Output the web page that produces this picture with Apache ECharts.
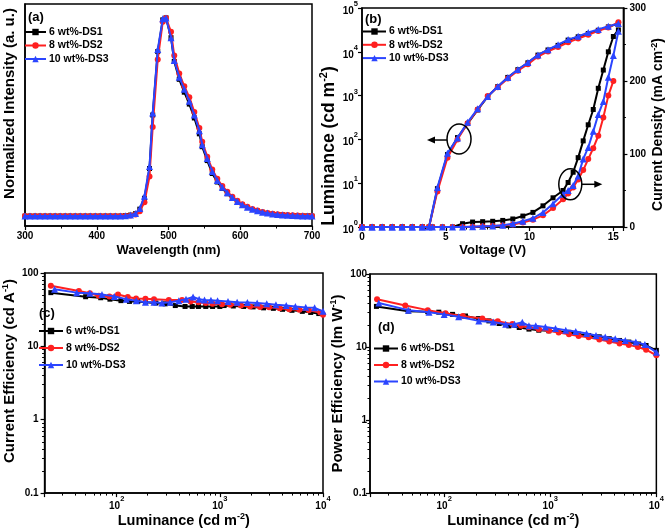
<!DOCTYPE html>
<html><head><meta charset="utf-8">
<script src="https://cdn.jsdelivr.net/npm/echarts@6/dist/echarts.min.js"></script>
<style>html,body{margin:0;padding:0;background:#fff}#c{width:667px;height:530px}</style>
</head><body><div id="c"></div>
<script>
// ---------- DATA ----------
const seriesNames = ['6 wt%-DS1', '8 wt%-DS2', '10 wt%-DS3'];

// (a) EL spectra
const wavelength = [300,307,314,321,328,335,342,349,356,363,370,377,384,391,398,405,412,419,426,433,440,447,454,
  460,466.5,473.5,478,485,492,496.5,503.5,508,515,
  522,529,536,543,547,554,561,568,
  575,582,589,596,603,610,617,624,631,638,645,652,659,666,673,680,687,694,
  700];
const elDS1 = [0,0,0,0,0,0,0,0,0,0,0,0,0,0,0,0,0,0,0,0,0.002,0.005,0.012,
  0.035,0.09,0.24,0.51,0.83,0.99,1.0,0.9,0.78,0.69,
  0.625,0.565,0.495,0.415,0.35,0.28,0.215,0.172,
  0.14,0.113,0.09,0.07,0.055,0.043,0.033,0.025,0.019,0.014,0.01,0.008,0.006,0.004,0.003,0.002,0.001,0.001,
  0];
const elDS2 = [0,0,0,0,0,0,0,0,0,0,0,0,0,0,0,0,0,0,0,0,0.001,0.003,0.008,
  0.025,0.07,0.2,0.45,0.79,0.98,1.0,0.93,0.81,0.72,
  0.655,0.6,0.525,0.445,0.375,0.3,0.235,0.188,
  0.152,0.123,0.098,0.077,0.06,0.047,0.036,0.028,0.021,0.016,0.012,0.009,0.007,0.005,0.004,0.003,0.002,0.001,
  0.001];
const elDS3 = [0,0,0,0,0,0,0,0,0,0,0,0,0,0,0,0,0,0,0,0,0.002,0.005,0.013,
  0.038,0.1,0.25,0.52,0.84,0.995,1.0,0.9,0.785,0.7,
  0.64,0.58,0.51,0.43,0.36,0.29,0.225,0.18,
  0.145,0.118,0.094,0.073,0.057,0.045,0.035,0.027,0.02,0.015,0.011,0.008,0.006,0.004,0.003,0.002,0.001,0.001,
  0];

// (b) luminance vs voltage (left axis)
const lumV = [0,0.6,1.2,1.8,2.4,3.0,3.6,4.0,4.5,5.1,5.7,6.3,6.9,7.5,8.1,8.7,9.3,9.9,10.5,11.1,11.7,12.3,12.9,13.5,14.1,14.7,15.3];
const lumDS1 = [1,1,1,1,1,1,1,1,7.5,45,110,230,470,950,1600,2600,3900,5600,8400,11000,14000,18500,22000,26000,31000,37000,44000];
const lumDS2 = [1,1,1,1,1,1,1,1,6.5,38,100,235,480,980,1550,2450,3700,5200,7800,10200,12800,16500,20000,24500,30000,36000,47000];
const lumDS3 = [1,1,1,1,1,1,1,1,8,48,108,245,500,950,1620,2600,3950,5700,8500,11200,14500,19000,22500,27500,32500,38500,44000];
// (b) current density vs voltage (right axis)
const jV = [0,0.6,1.2,1.8,2.4,3.0,3.6,4.2,4.8,5.4,6.0,6.6,7.2,7.8,8.4,9.0,9.6,10.2,10.8,11.4,12.0,12.3,12.6,12.9,13.2,13.5,13.8,14.1,14.4,14.7,15.0,15.3];
const jDS1 = [0,0,0,0,0,0,0,0,0,0,4.5,6.8,7.3,7.8,9,11,15,20,29,40,50,61,75,95,118,140,161,190,215,240,261,270];
const jDS2 = [0,0,0,0,0,0,0,0,0,0,0,0.5,1,1.5,2,3.5,6,10,16,26,38,46,54,65,78,93,108,125,150,180,200,null];
const jDS3 = [0,0,0,0,0,0,0,0,0,0,0,0.5,1,1.5,2.3,4.5,8,12,20,32,45,50,57,70,93,109,131,154,172,205,235,268];

// (c) current efficiency vs luminance
const ceL1 = [23,50,70,86,110,133,160,190,240,295,370,460,540,620,730,850,1000,1100,1350,1700,2100,2650,3300,4050,5000,6300,7600,9100];
const ceDS1 = [54,47.5,46,44,42,41,41,40,39,38,36,35,35,35,35,35,35,36,35.5,35,34.5,33.5,33,32,31,30,29,28];
const ceL2 = [23,43,55,67,85,103,128,154,190,230,320,430,520,620,730,850,1050,1260,1600,1960,2450,3000,3800,4700,5900,7300,9400,10000];
const ceDS2 = [67,57,53,49,48,51,47,45,44.5,44,43,43,41,40,39,38,37.5,37,36,35,34.5,34,33,32,31.5,31,29,27];
const ceL3 = [25,41,55,72,95,124,155,190,230,275,330,400,470,550,630,710,820,950,1200,1470,1850,2300,2850,3500,4400,5400,6800,8300,10000];
const ceDS3 = [60,54,53,51,48,44,42,40,40,39,40,42,44,47,44,43,42.5,42,41,40,39.5,39,38,37,36,35,34,33.5,30];

// (d) power efficiency vs luminance
const peL1 = [23,46,70,89,120,159,210,264,330,407,510,630,780,970,1200,1500,1850,2300,2900,3600,4500,5500,6800,8000,10000];
const peDS1 = [36,31,30.5,30,28,26.6,24.5,22.8,21,19.5,18.5,17.6,17,16.7,16.3,15.9,15,14.4,13.8,13,12.3,11.7,11,10.5,9];
const peL2 = [23.3,43,70,103,150,229,320,440,530,630,780,970,1200,1500,1850,2300,2900,3600,4500,5500,6700,8000,10000];
const peDS2 = [45,37,32,29,26.5,24.6,22.5,20.6,19.5,18.6,17.5,16.7,15.8,15,14.2,13.6,12.7,11.9,11.2,10.7,10,9.2,7.7];
const peL3 = [24.2,46,72,100,137,212,290,380,460,545,630,730,900,1120,1400,1740,2200,2700,3300,4100,5100,6400,7800,10000];
const peDS3 = [40,32,30,28,26,22.8,22,20.5,20.5,21.8,19.5,19.6,18.8,18,17,16.3,15.3,14.4,13.7,13,12.3,11.7,10.8,8.5];

// ---------- STYLE ----------
const FF = "'Liberation Sans', Arial, Helvetica, sans-serif";
const colors = ['#000000', '#ff2020', '#2b45ff'];
const symbols = ['rect', 'circle', 'triangle'];
const symSizes = [5, 6, 7];
const txt = (s) => ({fontFamily: FF, fontWeight: 'bold', fontSize: s, color: '#000'});
const supRich = {b: Object.assign(txt(10), {lineHeight: 16, verticalAlign: 'bottom'}), s: Object.assign(txt(7.5), {verticalAlign: 'top'})};
const nameRich = (s) => ({s: Object.assign(txt(s), {verticalAlign: 'top'})});
function logLabel(v) { const l = Math.log10(v), r = Math.round(l); if (Math.abs(l - r) > 0.01) return ''; return '{b|10}{s|' + r + '}'; }
function decLabel(v) { const l = Math.log10(v), r = Math.round(l); if (Math.abs(l - r) > 0.01) return ''; return r >= 0 ? String(Math.pow(10, r)) : Math.pow(10, r).toFixed(-r); }
const zip = (xs, ys) => xs.map((x, i) => [x, ys[i]]);
const axLine = {show: true, onZero: false, lineStyle: {color: '#000', width: 1.5}};
const axTick = {show: true, length: 4, lineStyle: {color: '#000', width: 1.2}};
const minor = (n) => ({show: true, splitNumber: n, length: 2.5, lineStyle: {color: '#000', width: 1}});
const noSplit = {show: false};

function line(i, data, xi, yi) {
  return {type: 'line', name: seriesNames[i], data: data, xAxisIndex: xi, yAxisIndex: yi,
    symbol: symbols[i], symbolSize: symSizes[i], showSymbol: true, showAllSymbol: true,
    lineStyle: {color: colors[i], width: 2}, itemStyle: {color: colors[i]},
    emphasis: {disabled: true}, animation: false, z: 2 + i};
}

const legendBase = (left, top, w, gap) => ({left: left, top: top, orient: 'vertical', padding: 0,
  itemWidth: w, itemHeight: 8, itemGap: gap, selectedMode: false, data: seriesNames,
  textStyle: Object.assign(txt(10.5), {padding: [0, 0, 0, -2]})});

const chart = echarts.init(document.getElementById('c'), null, {renderer: 'canvas'});
chart.setOption({
  backgroundColor: '#fff',
  animation: false,
  grid: [
    {left: 23, top: 4, width: 289, height: 222, show: true, borderColor: '#000', borderWidth: 1.5},
    {left: 362, top: 6, width: 264, height: 221, show: true, borderColor: '#000', borderWidth: 1.5},
    {left: 38, top: 273, width: 285, height: 225, show: true, borderColor: '#000', borderWidth: 1.5},
    {left: 370, top: 274, width: 288, height: 224, show: true, borderColor: '#000', borderWidth: 1.5}
  ],
  xAxis: [
    {gridIndex: 0, type: 'value', min: 300, max: 700, interval: 100, axisLine: axLine, axisTick: axTick, minorTick: minor(2), splitLine: noSplit,
      axisLabel: Object.assign(txt(10), {margin: 5}),
      name: 'Wavelength (nm)', nameLocation: 'middle', nameGap: 16.5, nameTextStyle: Object.assign(txt(13), {lineHeight: 15})},
    {gridIndex: 1, type: 'value', min: 0, max: 15.6, interval: 5, axisLine: axLine, axisTick: axTick, minorTick: minor(4), splitLine: noSplit,
      axisLabel: Object.assign(txt(10), {margin: 5, formatter: v => (Math.abs(v % 5) < 1e-6 ? String(v) : '')}),
      name: 'Voltage (V)', nameLocation: 'middle', nameGap: 15.5, nameTextStyle: Object.assign(txt(13), {lineHeight: 15})},
    {gridIndex: 2, type: 'log', logBase: 10, min: 20, max: 10000, splitNumber: 3, axisLine: axLine, axisTick: axTick, minorTick: minor(9), splitLine: noSplit,
      axisLabel: {formatter: logLabel, rich: supRich, margin: 2},
      name: 'Luminance (cd m{s|-2})', nameLocation: 'middle', nameGap: 7,
      nameTextStyle: Object.assign(txt(14.5), {lineHeight: 17, rich: nameRich(9)})},
    {gridIndex: 3, type: 'log', logBase: 10, min: 20, max: 10000, splitNumber: 3, axisLine: axLine, axisTick: axTick, minorTick: minor(9), splitLine: noSplit,
      axisLabel: {formatter: logLabel, rich: supRich, margin: 2},
      name: 'Luminance (cd m{s|-2})', nameLocation: 'middle', nameGap: 8.5,
      nameTextStyle: Object.assign(txt(14.5), {lineHeight: 17, rich: nameRich(9)})}
  ],
  yAxis: [
    {gridIndex: 0, type: 'value', min: -0.05, max: 1.07, axisLine: axLine, axisTick: {show: false}, axisLabel: {show: false}, splitLine: noSplit,
      name: 'Normalized Intensity (a. u.)', nameLocation: 'middle', nameRotate: 90, nameGap: 7,
      nameTextStyle: Object.assign(txt(15), {lineHeight: 17, padding: [0, 0, 0, 23]})},
    {gridIndex: 1, type: 'log', logBase: 10, min: 1, max: 100000, axisLine: axLine, axisTick: axTick, splitLine: noSplit,
      axisLabel: {formatter: logLabel, rich: supRich, margin: 4},
      name: 'Luminance (cd m{s|-2})', nameLocation: 'middle', nameRotate: 90, nameGap: 18,
      nameTextStyle: Object.assign(txt(17.5), {lineHeight: 20, padding: [0, 57, 0, 0], rich: nameRich(11)})},
    {gridIndex: 1, type: 'value', position: 'right', min: 0, max: 300, interval: 100, axisLine: axLine, axisTick: axTick, minorTick: minor(2), splitLine: noSplit,
      axisLabel: Object.assign(txt(10), {margin: 6}),
      name: 'Current Density (mA cm{s|-2})', nameLocation: 'middle', nameRotate: 90, nameGap: 21,
      nameTextStyle: Object.assign(txt(14), {lineHeight: 16, padding: [0, 14, 0, 0], rich: nameRich(9)})},
    {gridIndex: 2, type: 'log', logBase: 10, min: 0.1, max: 100, axisLine: axLine, axisTick: axTick, minorTick: minor(9), splitLine: noSplit,
      axisLabel: Object.assign(txt(10), {margin: 6, formatter: decLabel}),
      name: 'Current Efficiency (cd A{s|-1})', nameLocation: 'middle', nameRotate: 90, nameGap: 19.5,
      nameTextStyle: Object.assign(txt(15), {lineHeight: 17, padding: [0, 0, 0, 24], rich: nameRich(9)})},
    {gridIndex: 3, type: 'log', logBase: 10, min: 0.1, max: 100, axisLine: axLine, axisTick: axTick, minorTick: minor(9), splitLine: noSplit,
      axisLabel: Object.assign(txt(10), {margin: 3, formatter: decLabel}),
      name: 'Power Efficiency (lm W{s|-1})', nameLocation: 'middle', nameRotate: 90, nameGap: 15.5,
      nameTextStyle: Object.assign(txt(15), {lineHeight: 17, rich: nameRich(9)})}
  ],
  legend: [
    legendBase(24, 26.5, 21, 2.5),
    legendBase(362, 26, 23, 2.3),
    legendBase(38, 325.5, 24, 6),
    legendBase(373, 343, 24, 5.5)
  ],
  series: [
    line(0, zip(wavelength, elDS1), 0, 0), line(1, zip(wavelength, elDS2), 0, 0), line(2, zip(wavelength, elDS3), 0, 0),
    line(0, zip(jV, jDS1), 1, 2), line(1, zip(jV, jDS2), 1, 2), line(2, zip(jV, jDS3), 1, 2),
    line(0, zip(lumV, lumDS1), 1, 1), line(1, zip(lumV, lumDS2), 1, 1), line(2, zip(lumV, lumDS3), 1, 1),
    line(0, zip(ceL1, ceDS1), 2, 3), line(1, zip(ceL2, ceDS2), 2, 3), line(2, zip(ceL3, ceDS3), 2, 3),
    line(0, zip(peL1, peDS1), 3, 4), line(1, zip(peL2, peDS2), 3, 4), line(2, zip(peL3, peDS3), 3, 4)
  ]
});

// annotations in panel (b): circles with arrows pointing to their axes
const p1 = chart.convertToPixel({xAxisIndex: 1, yAxisIndex: 1}, [5.79, 102]);
const p2 = chart.convertToPixel({xAxisIndex: 1, yAxisIndex: 2}, [12.43, 58.5]);
const stroke = {stroke: '#000', lineWidth: 1.5, fill: null};
const lbl = (t, x, y) => ({type: 'text', x: x, y: y, style: {text: t, font: 'bold 13px ' + FF, fill: '#000'}, z: 10});
chart.setOption({
  graphic: [
    lbl('(a)', 28, 11), lbl('(b)', 365, 13), lbl('(c)', 39, 307), lbl('(d)', 378, 321),
    {type: 'ellipse', shape: {cx: p1[0], cy: p1[1], rx: 12, ry: 15}, style: stroke, z: 10},
    {type: 'line', shape: {x1: p1[0] - 12, y1: p1[1] + 1, x2: p1[0] - 25, y2: p1[1] + 1}, style: stroke, z: 10},
    {type: 'polygon', shape: {points: [[p1[0] - 32, p1[1] + 1], [p1[0] - 24, p1[1] - 2.5], [p1[0] - 24, p1[1] + 4.5]]}, style: {fill: '#000'}, z: 10},
    {type: 'ellipse', shape: {cx: p2[0], cy: p2[1], rx: 11.5, ry: 15.5}, style: stroke, z: 10},
    {type: 'line', shape: {x1: p2[0] + 11.5, y1: p2[1], x2: p2[0] + 25, y2: p2[1]}, style: stroke, z: 10},
    {type: 'polygon', shape: {points: [[p2[0] + 32, p2[1]], [p2[0] + 24, p2[1] - 3.5], [p2[0] + 24, p2[1] + 3.5]]}, style: {fill: '#000'}, z: 10}
  ]
});
</script>
</body></html>
